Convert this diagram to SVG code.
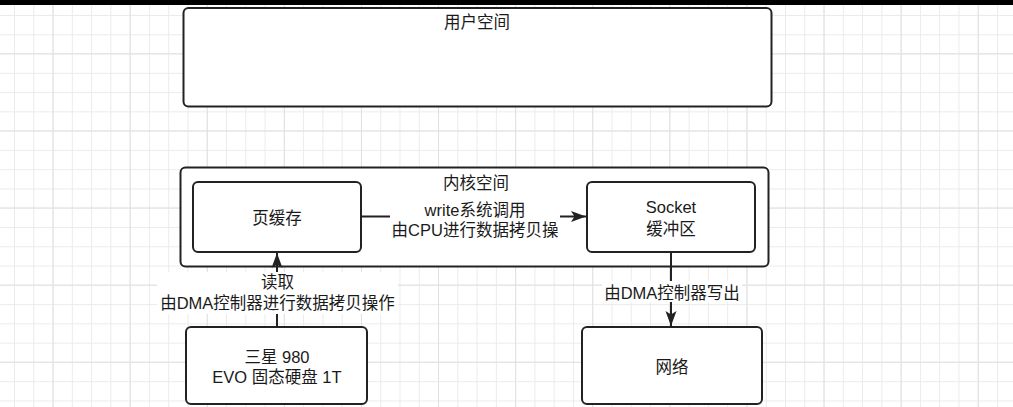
<svg xmlns="http://www.w3.org/2000/svg" width="1013" height="407" viewBox="0 0 1013 407">
<style>
.box{fill:#fff;stroke:#222;stroke-width:2}
.t{font-family:"Liberation Sans","Noto Sans CJK SC",sans-serif;font-size:16.5px;fill:#1a1a1a;text-anchor:middle}
.edge{fill:none;stroke:#222;stroke-width:2}
.lbg{fill:#fff}
</style>
<defs>
<pattern id="minor" x="14" y="15" width="19.275" height="19.275" patternUnits="userSpaceOnUse">
<path d="M0.5 0V19.275M0 0.5H19.275" stroke="#ebebeb" stroke-width="1" fill="none"/>
</pattern>
<pattern id="major" x="52.55" y="53.3" width="77.1" height="77.1" patternUnits="userSpaceOnUse">
<path d="M0.5 0V77.1M0 0.5H77.1" stroke="#e0e0e0" stroke-width="1" fill="none"/>
</pattern>
<marker id="arr" markerWidth="15" markerHeight="12" refX="15" refY="6" orient="auto" markerUnits="userSpaceOnUse">
<path d="M0 0.5L15 6L0 11.5L3.5 6Z" fill="#222"/>
</marker>
</defs>
<rect width="1013" height="407" fill="#fff"/>
<rect width="1013" height="407" fill="url(#minor)"/>
<rect width="1013" height="407" fill="url(#major)"/>
<rect x="0" y="0" width="1013" height="5" fill="#000"/>

<g id="user-space">
<rect class="box" x="183.5" y="8" width="588" height="98.5" rx="5"/>
<text class="t" x="477" y="28">用户空间</text>
</g>

<g id="kernel-space">
<rect class="box" x="180.5" y="167.5" width="588" height="99" rx="5"/>
<text class="t" x="476" y="189">内核空间</text>
</g>

<g id="page-cache">
<rect class="box" x="193" y="182" width="168" height="70" rx="5"/>
<text class="t" x="277" y="224">页缓存</text>
</g>

<g id="socket-buffer">
<rect class="box" x="587" y="182" width="168" height="70" rx="5"/>
<text class="t" x="671" y="213">Socket</text>
<text class="t" x="671" y="235">缓冲区</text>
</g>

<g id="ssd">
<rect class="box" x="186" y="327" width="181" height="77" rx="5"/>
<text class="t" x="277" y="363">三星 980</text>
<text class="t" x="277" y="382.5">EVO 固态硬盘 1T</text>
</g>

<g id="network">
<rect class="box" x="582" y="327" width="180" height="77" rx="5"/>
<text class="t" x="672" y="373">网络</text>
</g>

<g id="connectors">
<path class="edge" d="M361 216.5H586" marker-end="url(#arr)"/>
<rect class="lbg" x="390" y="197" width="170" height="42"/>
<text class="t" x="475" y="216">write系统调用</text>
<text class="t" x="475" y="235.5">由CPU进行数据拷贝操</text>

<path class="edge" d="M277 327V253" marker-end="url(#arr)"/>
<rect class="lbg" x="157" y="272" width="241" height="42"/>
<text class="t" x="277.5" y="287.5">读取</text>
<text class="t" x="277.5" y="309">由DMA控制器进行数据拷贝操作</text>

<path class="edge" d="M671 252V326" marker-end="url(#arr)"/>
<rect class="lbg" x="602" y="281" width="140" height="21"/>
<text class="t" x="672" y="298.5">由DMA控制器写出</text>
</g>
</svg>
